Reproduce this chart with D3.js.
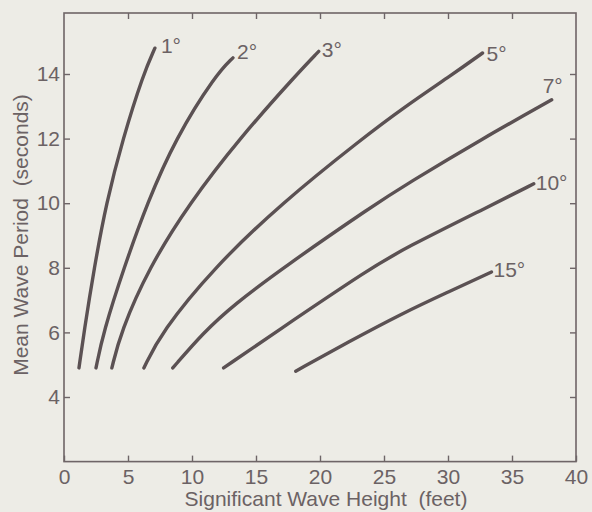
<!DOCTYPE html>
<html>
<head>
<meta charset="utf-8">
<script src="https://cdn.jsdelivr.net/npm/d3@7.9.0/dist/d3.min.js"></script>
<style>
  html, body { margin: 0; padding: 0; background: #edece6; }
  svg { display: block; }
  text { font-family: "Liberation Sans", Arial, sans-serif; fill: #6b6264; }
</style>
</head>
<body>
<div id="chart"></div>
<script>
/* ---------------- DATA ---------------- */

// slope angle of each curve
const angles = ["1°", "2°", "3°", "5°", "7°", "10°", "15°"];

// [significant wave height (ft), mean wave period (s)]
const curve1 = [[1.17, 4.9], [1.56, 6], [2.36, 8], [3.3, 10], [4.6, 12], [6.2, 14], [7.1, 14.8]];
const curve2 = [[2.5, 4.9], [3.07, 6], [4.68, 8], [6.5, 10], [8.7, 12], [11.9, 14], [13.2, 14.5]];
const curve3 = [[3.74, 4.9], [4.42, 6], [6.63, 8], [9.8, 10], [13.7, 12], [18.2, 14], [19.9, 14.7]];
const curve5 = [[6.24, 4.9], [7.6, 6], [11.7, 8], [17.0, 10], [23.3, 12], [26.5, 12.95], [30.4, 14], [32.7, 14.65]];
const curve7 = [[8.5, 4.9], [10.9, 6], [13.25, 6.85], [17.1, 8], [24.2, 9.94], [26.8, 10.6], [32.7, 12], [38.1, 13.2]];
const curve10 = [[12.47, 4.9], [16.5, 6], [24.0, 8], [26.5, 8.58], [33.4, 9.94], [36.7, 10.6]];
const curve15 = [[18.1, 4.8], [22.2, 5.7], [26.5, 6.6], [29.85, 7.22], [33.4, 7.87]];

const curves = [curve1, curve2, curve3, curve5, curve7, curve10, curve15];

const xTicks = [0, 5, 10, 15, 20, 25, 30, 35, 40];
const yTicks = [4, 6, 8, 10, 12, 14];

const xTitle = "Significant Wave Height\u00a0 (feet)";
const yTitle = "Mean Wave Period\u00a0 (seconds)";

/* ---------------- LAYOUT ---------------- */

const width = 592;
const height = 512;
const fontSize = "21px";

// label offset from the end of each curve
const labelOffsets = [[6, 5], [4, 1], [3, 6], [4, 8], [-9, -7], [2, 6], [2, 5]];

const x = d3.scaleLinear().domain([0, 40]).range([64, 576]);
const y = d3.scaleLinear().domain([4, 14]).range([397, 74]);

const frame = { left: 64, right: 576, top: 13, bottom: y(2) };

const svg = d3.select("#chart")
  .append("svg")
  .attr("width", width)
  .attr("height", height);

const ink = "#6e6567";

svg.append("rect")
  .attr("x", frame.left)
  .attr("y", frame.top)
  .attr("width", frame.right - frame.left)
  .attr("height", frame.bottom - frame.top)
  .attr("fill", "none")
  .attr("stroke", ink)
  .attr("stroke-width", 1.6);

/* ---------------- AXES ---------------- */

function styleAxis(g) {
  g.select(".domain").remove();
  g.selectAll(".tick line").attr("stroke", ink).attr("stroke-width", 1.4);
  g.selectAll(".tick text")
    .attr("fill", "#6b6264")
    .style("font-size", fontSize)
    .style("font-family", "'Liberation Sans', Arial, sans-serif");
}

svg.append("g")
  .attr("transform", `translate(0,${frame.bottom})`)
  .call(d3.axisBottom(x).tickValues(xTicks).tickSizeInner(-6).tickSizeOuter(0).tickPadding(7))
  .call(styleAxis);

svg.append("g")
  .attr("transform", `translate(${frame.left},0)`)
  .call(d3.axisLeft(y).tickValues(yTicks).tickSizeInner(-6).tickSizeOuter(0).tickPadding(4))
  .call(styleAxis);

// mirrored ticks on top and right, no labels
svg.append("g")
  .attr("transform", `translate(0,${frame.top})`)
  .call(d3.axisTop(x).tickValues(xTicks.slice(1, -1)).tickSizeInner(-6).tickSizeOuter(0).tickFormat(""))
  .call(styleAxis);

svg.append("g")
  .attr("transform", `translate(${frame.right},0)`)
  .call(d3.axisRight(y).tickValues(yTicks).tickSizeInner(-6).tickSizeOuter(0).tickFormat(""))
  .call(styleAxis);

svg.append("text")
  .attr("x", 326)
  .attr("y", 506)
  .attr("text-anchor", "middle")
  .style("font-size", fontSize)
  .text(xTitle);

svg.append("text")
  .attr("transform", "translate(28,235) rotate(-90)")
  .attr("text-anchor", "middle")
  .style("font-size", fontSize)
  .text(yTitle);

/* ---------------- CURVES ---------------- */

const line = d3.line()
  .x(d => x(d[0]))
  .y(d => y(d[1]))
  .curve(d3.curveBasis);

svg.append("g")
  .selectAll("path")
  .data(curves)
  .join("path")
  .attr("d", line)
  .attr("fill", "none")
  .attr("stroke", "#5b5153")
  .attr("stroke-width", 3.4)
  .attr("stroke-linecap", "round");

svg.append("g")
  .selectAll("text")
  .data(curves)
  .join("text")
  .attr("x", (d, i) => x(d[d.length - 1][0]) + labelOffsets[i][0])
  .attr("y", (d, i) => y(d[d.length - 1][1]) + labelOffsets[i][1])
  .style("font-size", fontSize)
  .text((d, i) => angles[i]);
</script>
</body>
</html>
